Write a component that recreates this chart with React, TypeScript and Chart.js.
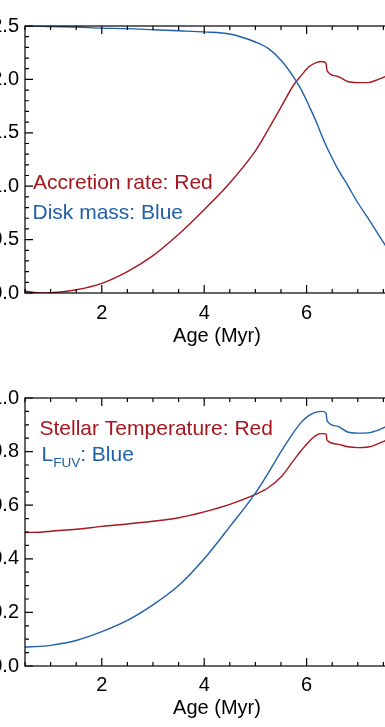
import React, { useEffect, useRef } from "react";
import { Chart, registerables } from "chart.js";

Chart.register(...registerables);

// ---------- data ----------
const ages = [0.5, 0.85, 1.0, 1.5, 2.0, 2.5, 3.0, 3.5, 4.0, 4.5, 5.0, 5.25, 5.5, 5.75, 5.9, 6.05, 6.2, 6.3, 6.38, 6.4, 6.6, 6.8, 7.0, 7.2, 7.4, 7.6, 7.8];
const accretionRate = [0.016, 0.0, 0.002, 0.03, 0.09, 0.2, 0.35, 0.55, 0.78, 1.03, 1.33, 1.53, 1.74, 1.95, 2.04, 2.12, 2.16, 2.167, 2.15, 2.08, 2.03, 1.98, 1.97, 1.97, 2.0, 2.04, 2.08];
const diskMass = [2.5, 2.497, 2.495, 2.49, 2.48, 2.475, 2.465, 2.455, 2.445, 2.425, 2.35, 2.29, 2.18, 2.02, 1.9, 1.75, 1.59, 1.47, 1.38, 1.36, 1.17, 1.01, 0.845, 0.7, 0.55, 0.4, 0.26];
const stellarTemp = [0.498, 0.5, 0.503, 0.51, 0.521, 0.53, 0.54, 0.553, 0.575, 0.603, 0.64, 0.665, 0.705, 0.768, 0.805, 0.838, 0.862, 0.867, 0.866, 0.842, 0.828, 0.818, 0.815, 0.817, 0.83, 0.846, 0.86];
const lfuv = [0.071, 0.074, 0.077, 0.095, 0.128, 0.17, 0.228, 0.3, 0.4, 0.52, 0.645, 0.72, 0.8, 0.873, 0.91, 0.935, 0.948, 0.95, 0.944, 0.915, 0.895, 0.873, 0.869, 0.87, 0.88, 0.897, 0.91];

const xMin = 0.5;
const xMax = 8;
const xMajorStep = 2;
const xMinorStep = 0.5;
const xTitle = "Age (Myr)";

const RED = "#a6161f";
const BLUE = "#1f5fab";
const FONT = "'Liberation Sans', Arial, Helvetica, sans-serif";

type Label = { parts: { text: string; size: number; dy: number }[]; x: number; y: number; color: string };

type PanelProps = {
  top: number;
  height: number;
  yMax: number;
  yStep: number;
  yMinor: number;
  red: number[];
  blue: number[];
  padTop: number;
  xAxisHeight: number;
  tickPad: number;
  titlePad: number;
  labels: Label[];
};

const CANVAS_LEFT = -40;
const CANVAS_W = 480;
const Y_AXIS_W = 65;
const PAD_RIGHT = 31;

function Panel(p: PanelProps) {
  const ref = useRef<HTMLCanvasElement>(null);
  useEffect(() => {
    const canvas = ref.current!;
    const framePlugin = {
      id: "frame",
      afterDatasetsDraw(chart: any) {
        const { ctx, chartArea } = chart;
        const { left, right, top, bottom } = chartArea;
        const xs = chart.scales.x;
        const ys = chart.scales.y;
        ctx.save();
        ctx.strokeStyle = "#000";
        ctx.lineWidth = 1.2;
        ctx.strokeRect(left, top, right - left, bottom - top);
        ctx.beginPath();
        const nx = Math.round((xMax - xMin) / xMinorStep);
        for (let i = 0; i <= nx; i++) {
          const v = xMin + i * xMinorStep;
          const px = xs.getPixelForValue(v);
          const major = Math.abs(v / xMajorStep - Math.round(v / xMajorStep)) < 1e-6;
          const len = major ? 8 : 4;
          ctx.moveTo(px, bottom);
          ctx.lineTo(px, bottom - len);
          ctx.moveTo(px, top);
          ctx.lineTo(px, top + len);
        }
        const ny = Math.round(p.yMax / p.yMinor);
        for (let i = 0; i <= ny; i++) {
          const v = i * p.yMinor;
          const py = ys.getPixelForValue(v);
          const major = Math.abs(v / p.yStep - Math.round(v / p.yStep)) < 1e-6;
          const len = major ? 8 : 4;
          ctx.moveTo(left, py);
          ctx.lineTo(left + len, py);
          ctx.moveTo(right, py);
          ctx.lineTo(right - len, py);
        }
        ctx.stroke();
        // annotations
        for (const lab of p.labels) {
          let x = lab.x;
          ctx.fillStyle = lab.color;
          ctx.textBaseline = "alphabetic";
          ctx.textAlign = "left";
          for (const part of lab.parts) {
            ctx.font = `${part.size}px ${FONT}`;
            ctx.fillText(part.text, x, lab.y + part.dy);
            x += ctx.measureText(part.text).width;
          }
        }
        ctx.restore();
      },
    };

    const chart = new Chart(canvas, {
      type: "line",
      data: {
        datasets: [
          {
            data: ages.map((a, i) => ({ x: a, y: p.blue[i] })),
            borderColor: BLUE,
            borderWidth: 1.4,
            pointRadius: 0,
            cubicInterpolationMode: "monotone",
          },
          {
            data: ages.map((a, i) => ({ x: a, y: p.red[i] })),
            borderColor: RED,
            borderWidth: 1.4,
            pointRadius: 0,
            cubicInterpolationMode: "monotone",
          },
        ],
      },
      options: {
        animation: false,
        responsive: false,
        devicePixelRatio: 1,
        layout: { padding: { top: p.padTop, left: 0, right: PAD_RIGHT, bottom: 0 } },
        plugins: { legend: { display: false }, tooltip: { enabled: false } },
        scales: {
          x: {
            type: "linear",
            min: xMin,
            max: xMax,
            grid: { display: false, drawTicks: false },
            border: { display: false },
            ticks: {
              stepSize: xMajorStep,
              padding: p.tickPad,
              color: "#000",
              font: { family: FONT, size: 20 },
              maxRotation: 0,
              callback: (v: any) => String(v),
            },
            afterBuildTicks: (s: any) => {
              s.ticks = s.ticks.filter((t: any) => Math.abs(t.value % xMajorStep) < 1e-6);
            },
            afterFit: (s: any) => {
              s.height = p.xAxisHeight;
            },
            title: {
              display: true,
              text: xTitle,
              color: "#000",
              font: { family: FONT, size: 20 },
              padding: { top: 0, bottom: p.titlePad },
            },
          },
          y: {
            min: 0,
            max: p.yMax,
            grid: { display: false, drawTicks: false },
            border: { display: false },
            ticks: {
              stepSize: p.yStep,
              padding: 6,
              color: "#000",
              font: { family: FONT, size: 20 },
              callback: (v: any) => Number(v).toFixed(1),
            },
            afterFit: (s: any) => {
              s.width = Y_AXIS_W;
            },
          },
        },
      },
      plugins: [framePlugin],
    } as any);
    return () => chart.destroy();
  }, []);
  return (
    <canvas
      ref={ref}
      width={CANVAS_W}
      height={p.height}
      style={{ position: "absolute", left: CANVAS_LEFT, top: p.top, width: CANVAS_W, height: p.height }}
    />
  );
}

export default function App() {
  return (
    <div style={{ position: "fixed", left: 0, top: 0, width: 385, height: 727, overflow: "hidden", background: "#fff" }}>
      <Panel
        top={0}
        height={360}
        yMax={2.5}
        yStep={0.5}
        yMinor={0.1}
        red={accretionRate}
        blue={diskMass}
        padTop={26}
        xAxisHeight={67}
        tickPad={8}
        titlePad={12}
        labels={[
          { parts: [{ text: "Accretion rate: Red", size: 21, dy: 0 }], x: 73, y: 188.5, color: RED },
          { parts: [{ text: "Disk mass: Blue", size: 21, dy: 0 }], x: 72.5, y: 218.5, color: BLUE },
        ]}
      />
      <Panel
        top={360}
        height={367}
        yMax={1.0}
        yStep={0.2}
        yMinor={0.05}
        red={stellarTemp}
        blue={lfuv}
        padTop={38}
        xAxisHeight={61}
        tickPad={7}
        titlePad={7}
        labels={[
          { parts: [{ text: "Stellar Temperature: Red", size: 21, dy: 0 }], x: 79.5, y: 75, color: RED },
          {
            parts: [
              { text: "L", size: 21, dy: 0 },
              { text: "FUV", size: 13.5, dy: 6 },
              { text: ": Blue", size: 21, dy: 0 },
            ],
            x: 81.5,
            y: 100.5,
            color: BLUE,
          },
        ]}
      />
    </div>
  );
}
